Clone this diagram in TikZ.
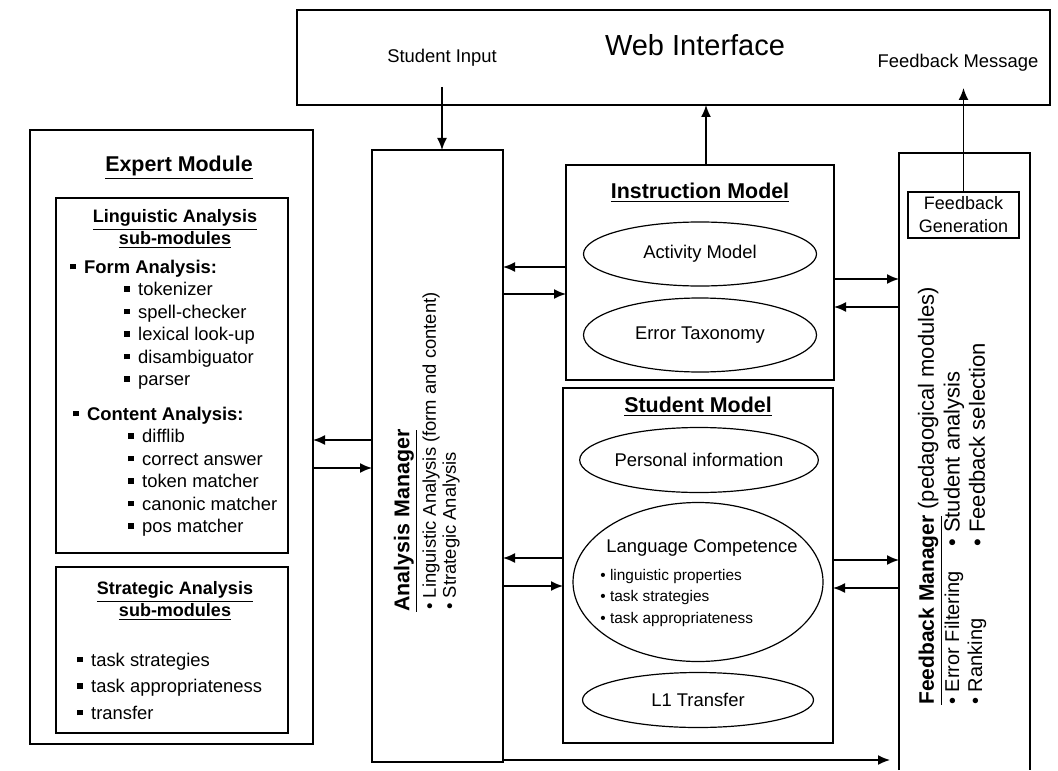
\documentclass[tikz,border=0pt]{standalone}
\usepackage{fontspec}
\setmainfont{Liberation Sans}
\usetikzlibrary{arrows.meta,shapes.geometric,positioning}

\newcommand{\sqb}{\raisebox{0.2em}{\rule{0.3em}{0.3em}}\hspace{0.45em}}
\newcommand{\fsz}[2]{\fontsize{#1}{#2}\selectfont}

\tikzset{
  box/.style={draw, line width=0.7pt, inner sep=0pt, outer sep=0pt},
  oval/.style={draw, ellipse, line width=0.6pt, inner sep=0pt, outer sep=0pt, font=\fsz{9.2}{11}},
  arr/.style={-{Latex[length=6pt,width=5pt]}, line width=0.8pt},
  txt/.style={inner sep=0pt, font=\fsz{9.2}{11}},
  vtxt/.style={txt, rotate=90, anchor=west},
}

\begin{document}
\begin{tikzpicture}[x=0.5pt, y=-0.5pt]
\useasboundingbox (0,0) rectangle (1058,770);

% web interface
\node[box, minimum width=376.5pt, minimum height=47.5pt] (web) at (673.5,57.5) {};
\node[txt, font=\fsz{14.5}{17}] (webtitle) at (695,45) {Web Interface};
\node[txt] (sinput) at (442,58) {Student Input};
\node[txt] (fbmsg) at (958,63) {Feedback Message};

% expert module
\node[box, minimum width=141.5pt, minimum height=307pt] (expert) at (171.5,437) {};
\node[txt, font=\fsz{10.7}{13}\bfseries] (experttitle) at (179,168) {\underline{Expert Module}};
\node[box, minimum width=116pt, minimum height=177.5pt] (ling) at (172,375.5) {};
\node[txt, font=\fsz{9}{11}\bfseries, align=center] (lingtitle) at (175,229)
  {\underline{Linguistic Analysis}\\\underline{sub-modules}};
\node[txt, anchor=base west, font=\fsz{9.2}{11.25}] (linglist) at (70,273) {
\begin{tabular}[t]{@{}l@{}}
  \sqb\textbf{Form Analysis:} \\
  \hspace{27pt}\sqb tokenizer \\
  \hspace{27pt}\sqb spell-checker \\
  \hspace{27pt}\sqb lexical look-up \\
  \hspace{27pt}\sqb disambiguator \\
  \hspace{27pt}\sqb parser \\[6pt]
  \hspace{1.5pt}\sqb\textbf{Content Analysis:} \\
  \hspace{29pt}\sqb difflib \\
  \hspace{29pt}\sqb correct answer \\
  \hspace{29pt}\sqb token matcher \\
  \hspace{29pt}\sqb canonic matcher \\
  \hspace{29pt}\sqb pos matcher \\
\end{tabular}
};
\node[box, minimum width=116pt, minimum height=83pt] (strat) at (172,650) {};
\node[txt, font=\fsz{9}{11}\bfseries, align=center] (strattitle) at (175,601)
  {\underline{Strategic Analysis}\\\underline{sub-modules}};
\node[txt, anchor=base west, font=\fsz{9.2}{13.25}] (stratlist) at (77,666) {
\begin{tabular}[t]{@{}l@{}}
  \sqb task strategies \\
  \sqb task appropriateness \\
  \sqb transfer \\
\end{tabular}
};

% analysis manager
\node[box, minimum width=65.5pt, minimum height=306pt] (am) at (437.5,456) {};
\node[vtxt, font=\fsz{10.7}{13}\bfseries] (amtitle) at (406,612) {\underline{Analysis Manager}};
\node[vtxt] (amling) at (431,610) {\textbullet\ Linguistic Analysis (form and content)};
\node[vtxt] (amstrat) at (451,610) {\textbullet\ Strategic Analysis};

% instruction model
\node[box, minimum width=134pt, minimum height=107.5pt] (im) at (700,272.5) {};
\node[txt, font=\fsz{10.7}{13}\bfseries] (imtitle) at (700,193) {\underline{Instruction Model}};
\node[oval, minimum width=116.5pt, minimum height=32pt] (activity) at (700,254) {Activity Model};
\node[oval, minimum width=116.5pt, minimum height=37pt] (errtax) at (700,335) {Error Taxonomy};

% student model
\node[box, minimum width=135pt, minimum height=177.5pt] (sm) at (698,565.5) {};
\node[txt, font=\fsz{10.7}{13}\bfseries] (smtitle) at (698,407) {\underline{Student Model}};
\node[oval, minimum width=116pt, minimum height=32.5pt] (personal) at (699,460) {Personal information};
\node[oval, minimum width=125pt, minimum height=79.5pt] (langcomp) at (698,582) {};
\node[txt] (lctitle) at (702,548) {Language Competence};
\node[txt, anchor=base west, font=\fsz{7.7}{10.75}] (lclist) at (600,580) {
\begin{tabular}[t]{@{}l@{}}
  \textbullet\ linguistic properties \\
  \textbullet\ task strategies \\
  \textbullet\ task appropriateness \\
\end{tabular}
};
\node[oval, minimum width=115.5pt, minimum height=27.5pt] (l1) at (698,700) {L1 Transfer};

% feedback manager (open at the bottom)
\node[box, draw=none, minimum width=65.5pt, minimum height=308.5pt] (fm) at (964.5,461.5) {};
\draw[line width=0.7pt] (fm.south west) |- (fm.north east) -- (fm.south east);
\node[box, minimum width=55.5pt, minimum height=23pt, font=\fsz{9}{11.5}, align=center] (fg) at (963.5,215)
  {Feedback\\Generation};
\node[vtxt, font=\fsz{11}{13}] (fmtitle) at (930,705)
  {{\fsz{10.5}{12}\bfseries\underline{Feedback Manager}} (pedagogical modules)};
\node[vtxt, font=\fsz{10}{12}] (fmerror) at (954,705) {\textbullet\ Error Filtering};
\node[vtxt, font=\fsz{11}{13}] (fmstudent) at (954,547) {\textbullet\ Student analysis};
\node[vtxt, font=\fsz{10}{12}] (fmrank) at (977,705) {\textbullet\ Ranking};
\node[vtxt, font=\fsz{11}{13}] (fmselect) at (977,547) {\textbullet\ Feedback selection};

% connectors
\path ([yshift=-10pt]sinput.south) coordinate (si);
\draw[arr] (si) -- (si |- am.north);
\path ([xshift=3pt]im.north) coordinate (iu);
\draw[arr] (iu) -- (iu |- web.south);
\path ([yshift=-8pt]fbmsg.south) coordinate (ft);
\draw[arr] (fg.north) -- (fg.north |- ft);

\path ([yshift=-1.5pt]expert.east) coordinate (ea);
\path ([yshift=-15.5pt]expert.east) coordinate (eb);
\draw[arr] (ea -| am.west) -- (ea);
\draw[arr] (eb) -- (eb -| am.west);

\path ([yshift=2.75pt]im.west) coordinate (ia);
\path ([yshift=-10.75pt]im.west) coordinate (ib);
\draw[arr] (ia) -- (ia -| am.east);
\draw[arr] (ib -| am.east) -- (ib);
\path ([yshift=-3.25pt]im.east) coordinate (ic);
\path ([yshift=-17.25pt]im.east) coordinate (id);
\draw[arr] (ic) -- (ic -| fm.west);
\draw[arr] (id -| fm.west) -- (id);

\path ([yshift=3.75pt]sm.west) coordinate (sa);
\path ([yshift=-10.25pt]sm.west) coordinate (sb);
\draw[arr] (sa) -- (sa -| am.east);
\draw[arr] (sb -| am.east) -- (sb);
\path ([yshift=2.75pt]sm.east) coordinate (sc);
\path ([yshift=-11.25pt]sm.east) coordinate (sd);
\draw[arr] (sc) -- (sc -| fm.west);
\draw[arr] (sd -| fm.west) -- (sd);

\path ([yshift=1pt]am.south east) coordinate (bt);
\draw[arr, shorten >=4.5pt] (bt) -- (bt -| fm.west);
\end{tikzpicture}
\end{document}
